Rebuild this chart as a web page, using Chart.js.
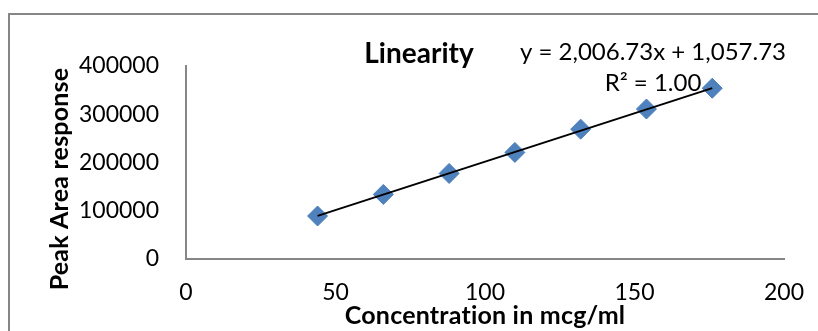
<!DOCTYPE html>
<html>
<head>
<meta charset="utf-8">
<title>Linearity</title>
<script src="https://cdn.jsdelivr.net/npm/chart.js@4/dist/chart.umd.min.js"></script>
<style>
  html, body { margin: 0; padding: 0; background: #fff; }
  canvas { display: block; }
</style>
</head>
<body>
<canvas id="linearityChart" width="818" height="331"></canvas>
<script>
// calibration points
const concentration = [44, 66, 88, 110, 132, 154, 176];
const peakArea = [89100, 133800, 177300, 220900, 269100, 310800, 353900];

// regression line from the fitted equation
const slope = 2006.73;
const intercept = 1057.73;
const rSquared = 1.00;

const xTicks = [0, 50, 100, 150, 200];
const yTicks = [0, 100000, 200000, 300000, 400000];

const chartTitle = 'Linearity';
const xTitle = 'Concentration in mcg/ml';
const yTitle = 'Peak Area response';

const FONT = 'Lato, "Open Sans", sans-serif';
const AXIS_GREY = '#868686';

const fmt = (n) => n.toLocaleString('en-US', { minimumFractionDigits: 2, maximumFractionDigits: 2 });
const equationText = 'y = ' + fmt(slope) + 'x + ' + fmt(intercept);
const r2Text = 'R\u00B2 = ' + rSquared.toFixed(2);

const xMin = Math.min(...concentration);
const xMax = Math.max(...concentration);
const trendPoints = [
  { x: xMin, y: slope * xMin + intercept },
  { x: xMax, y: slope * xMax + intercept },
];

// frame, title and the text labels around the plot
const labelsPlugin = {
  id: 'labels',
  beforeDraw(chart) {
    const ctx = chart.ctx;
    ctx.save();
    ctx.strokeStyle = AXIS_GREY;
    ctx.lineWidth = 2;
    ctx.strokeRect(9, 14, 1000, 1000);
    ctx.restore();
  },
  beforeDatasetsDraw(chart) {
    const ctx = chart.ctx;
    ctx.save();
    ctx.fillStyle = '#000';
    ctx.textAlign = 'center';
    ctx.textBaseline = 'alphabetic';

    ctx.font = 'bold 28px ' + FONT;
    ctx.fillText(chartTitle, 419, 63);

    ctx.font = '24px ' + FONT;
    ctx.fillText(equationText, 653, 60);
    ctx.fillText(r2Text, 653, 91);

    // a little letter spacing keeps Lato from joining "ti"
    ctx.font = 'bold 25px ' + FONT;
    ctx.letterSpacing = '0.2px';
    ctx.fillText(xTitle, 485, 324);

    ctx.translate(68, 179);
    ctx.rotate(-Math.PI / 2);
    ctx.fillText(yTitle, 0, 0);
    ctx.restore();
  }
};

new Chart(document.getElementById('linearityChart'), {
  type: 'scatter',
  data: {
    datasets: [
      {
        type: 'line',
        label: 'Linear fit',
        data: trendPoints,
        borderColor: '#000',
        borderWidth: 2,
        pointRadius: 0,
        fill: false,
      },
      {
        label: 'Peak area',
        data: concentration.map((x, i) => ({ x: x, y: peakArea[i] })),
        pointStyle: 'rectRot',
        pointRadius: 10,
        pointHoverRadius: 10,
        backgroundColor: '#4F81BD',
        borderColor: '#4A7EBB',
        borderWidth: 1,
      },
    ],
  },
  options: {
    responsive: false,
    animation: false,
    devicePixelRatio: 1,
    layout: { padding: { top: 66, right: 34, left: 0, bottom: 0 } },
    plugins: {
      legend: { display: false },
      tooltip: { enabled: false },
    },
    scales: {
      x: {
        type: 'linear',
        min: 0,
        max: 200,
        afterBuildTicks: (scale) => { scale.ticks = xTicks.map((v) => ({ value: v })); },
        afterFit: (scale) => {
          scale.height = 72;
          // the layout padding already leaves room for the end labels
          scale.paddingLeft = 0;
          scale.paddingRight = 0;
        },
        grid: { display: false, drawTicks: false },
        border: { display: true, color: AXIS_GREY, width: 2 },
        ticks: {
          color: '#000',
          font: { family: FONT, size: 23 },
          padding: 20,
          maxRotation: 0,
          autoSkip: false,
          callback: (v) => String(v),
        },
      },
      y: {
        type: 'linear',
        min: 0,
        max: 400000,
        afterBuildTicks: (scale) => { scale.ticks = yTicks.map((v) => ({ value: v })); },
        afterFit: (scale) => { scale.width = 186; },
        grid: { display: false, drawTicks: false },
        border: { display: true, color: AXIS_GREY, width: 2 },
        ticks: {
          color: '#000',
          font: { family: FONT, size: 23 },
          padding: 27,
          autoSkip: false,
          callback: (v) => String(v),
        },
      },
    },
  },
  plugins: [labelsPlugin],
});
</script>
</body>
</html>
